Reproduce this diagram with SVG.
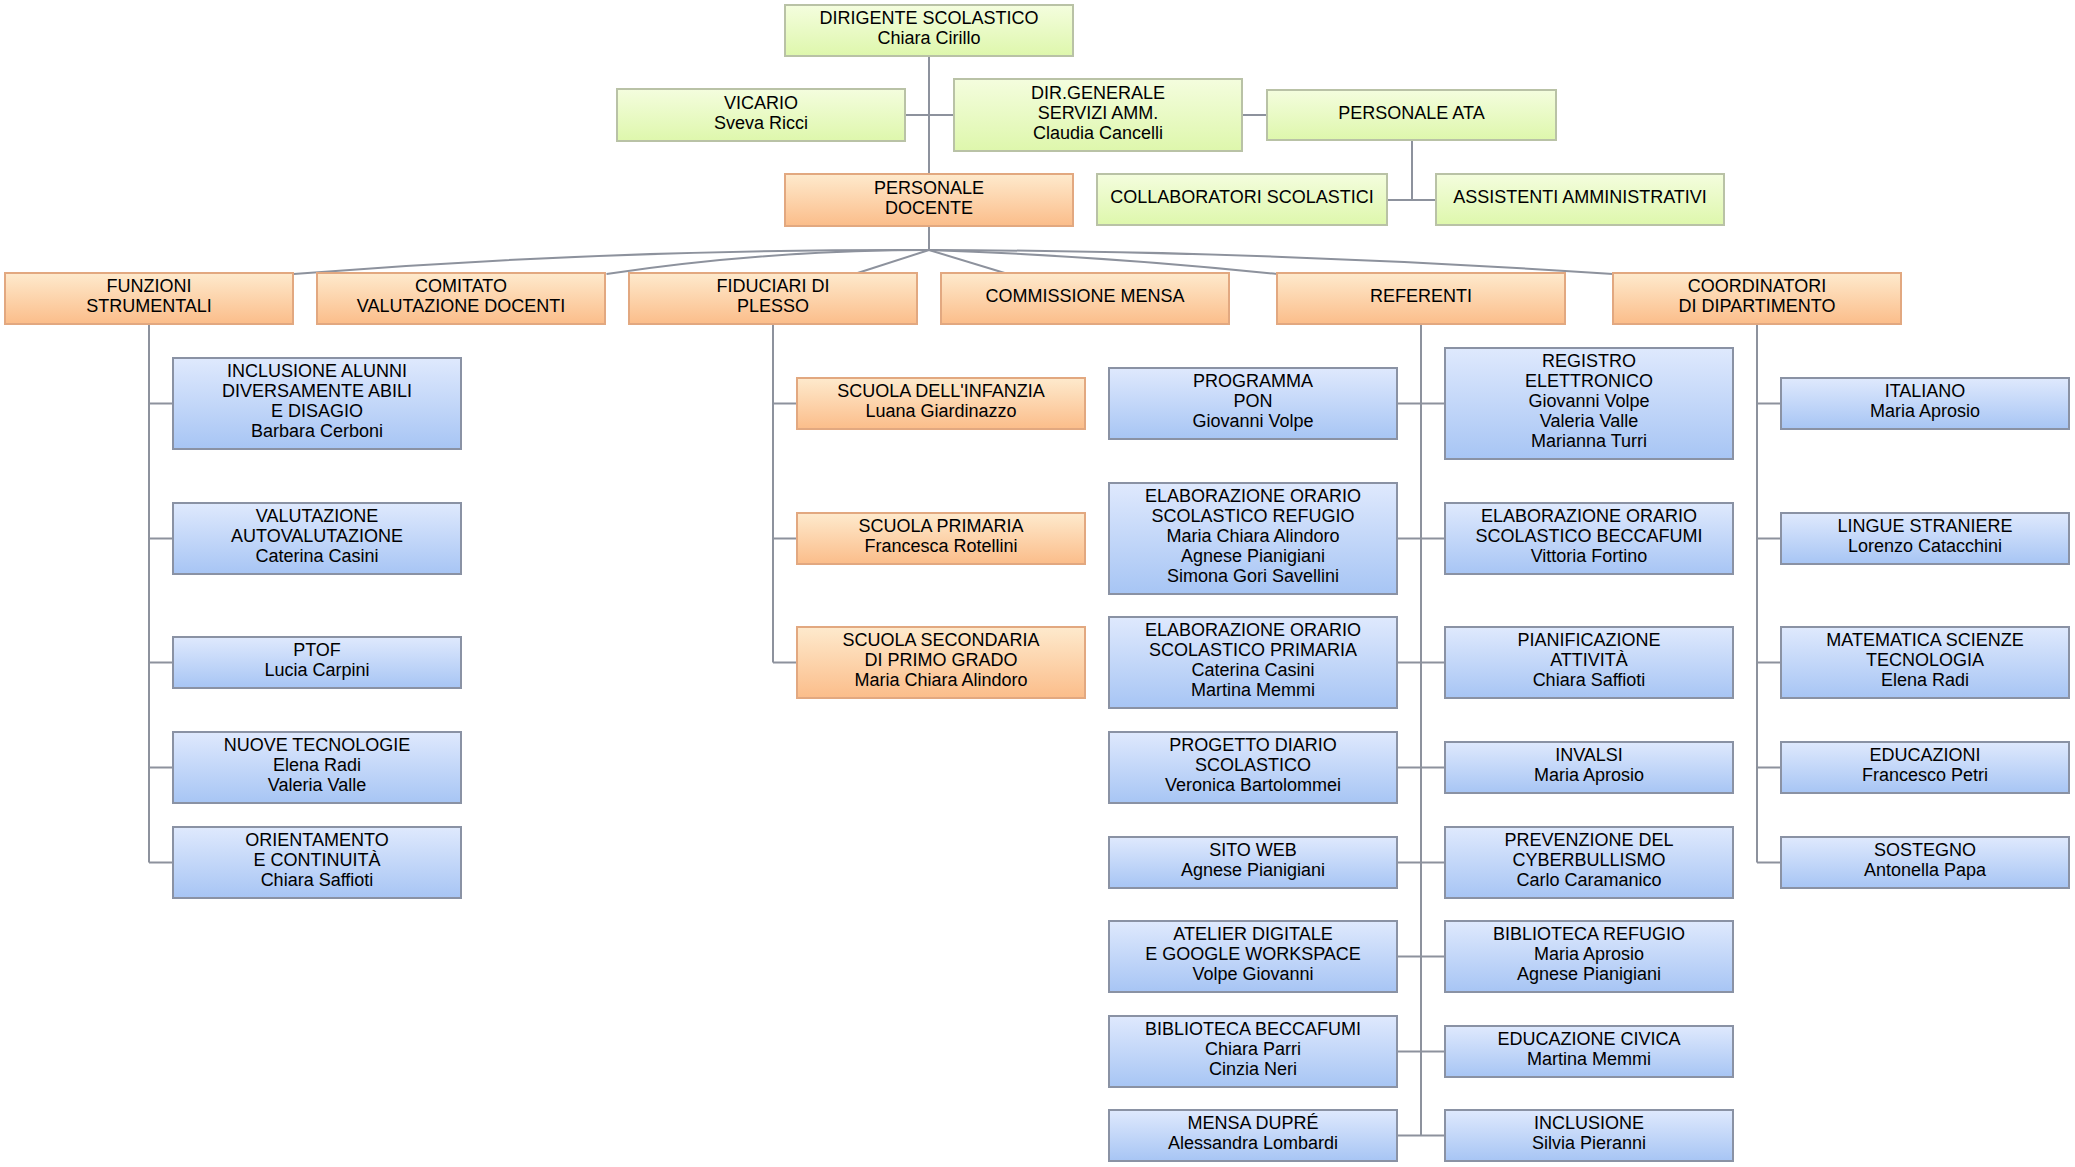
<svg xmlns="http://www.w3.org/2000/svg" width="2075" height="1167" viewBox="0 0 2075 1167">
<defs>
<linearGradient id="gG" x1="0" y1="0" x2="0" y2="1"><stop offset="0" stop-color="#f4fdde"/><stop offset="1" stop-color="#def7ac"/></linearGradient>
<linearGradient id="gO" x1="0" y1="0" x2="0" y2="1"><stop offset="0" stop-color="#feeacd"/><stop offset="1" stop-color="#fbbd8a"/></linearGradient>
<linearGradient id="gB" x1="0" y1="0" x2="0" y2="1"><stop offset="0" stop-color="#dfe9fd"/><stop offset="1" stop-color="#a7c5f4"/></linearGradient>
<style>
.g rect{fill:url(#gG);stroke:#b9c2a6;stroke-width:2}
.o rect{fill:url(#gO);stroke:#e2a880;stroke-width:2}
.b rect{fill:url(#gB);stroke:#8a92a4;stroke-width:2}
text{font-family:"Liberation Sans",Arial,sans-serif;font-size:18px;fill:#000;text-anchor:middle;transform:translate(0px,-1.3px)}
#connectors path{fill:none;stroke:#8d929d;stroke-width:2}
</style>
</defs>
<rect width="2075" height="1167" fill="#fff"/>
<g id="connectors">
<path d="M929 56V250M905 115H954M1242 115H1267M1412 140V200M1388 200H1436"/>
<path d="M929 226V250"/>
<path d="M929 250Q611 249 293.5 274"/>
<path d="M929 250Q768 250 606.5 274"/>
<path d="M929 250L854.5 274"/>
<path d="M929 250L1008 274"/>
<path d="M929 250Q1103 256 1277 274"/>
<path d="M929 250Q1270 251 1613 274"/>
<path d="M149 324V862.5M149 403.5H173M149 538.5H173M149 662.5H173M149 767.5H173M149 862.5H173"/>
<path d="M773 324V662.5M773 403.5H797M773 538.5H797M773 662.5H797"/>
<path d="M1421 324V1135.5M1397 403.5H1445M1397 538.5H1445M1397 662.5H1445M1397 767.5H1445M1397 862.5H1445M1397 956.5H1445M1397 1051.5H1445M1397 1135.5H1445"/>
<path d="M1757 324V862.5M1757 403.5H1781M1757 538.5H1781M1757 662.5H1781M1757 767.5H1781M1757 862.5H1781"/>
</g>

<g id="dirigente" class="g"><rect x="785" y="5" width="288" height="51"/><text><tspan x="929" y="25.5">DIRIGENTE SCOLASTICO</tspan><tspan x="929" y="45.5">Chiara Cirillo</tspan></text></g>
<g id="vicario" class="g"><rect x="617" y="89" width="288" height="52"/><text><tspan x="761" y="110">VICARIO</tspan><tspan x="761" y="130">Sveva Ricci</tspan></text></g>
<g id="dsga" class="g"><rect x="954" y="79" width="288" height="72"/><text><tspan x="1098" y="100">DIR.GENERALE</tspan><tspan x="1098" y="120">SERVIZI AMM.</tspan><tspan x="1098" y="140">Claudia Cancelli</tspan></text></g>
<g id="personale-ata" class="g"><rect x="1267" y="90" width="289" height="50"/><text x="1411.5" y="120">PERSONALE ATA</text></g>
<g id="collaboratori" class="g"><rect x="1097" y="174" width="290" height="51"/><text x="1242" y="204.5">COLLABORATORI SCOLASTICI</text></g>
<g id="assistenti" class="g"><rect x="1436" y="174" width="288" height="51"/><text x="1580" y="204.5">ASSISTENTI AMMINISTRATIVI</text></g>

<g id="personale-docente" class="o"><rect x="785" y="174" width="288" height="52"/><text><tspan x="929" y="195">PERSONALE</tspan><tspan x="929" y="215">DOCENTE</tspan></text></g>
<g id="funzioni" class="o"><rect x="5" y="273" width="288" height="51"/><text><tspan x="149" y="293.5">FUNZIONI</tspan><tspan x="149" y="313.5">STRUMENTALI</tspan></text></g>
<g id="comitato" class="o"><rect x="317" y="273" width="288" height="51"/><text><tspan x="461" y="293.5">COMITATO</tspan><tspan x="461" y="313.5">VALUTAZIONE DOCENTI</tspan></text></g>
<g id="fiduciari" class="o"><rect x="629" y="273" width="288" height="51"/><text><tspan x="773" y="293.5">FIDUCIARI DI</tspan><tspan x="773" y="313.5">PLESSO</tspan></text></g>
<g id="commissione" class="o"><rect x="941" y="273" width="288" height="51"/><text x="1085" y="303.5">COMMISSIONE MENSA</text></g>
<g id="referenti" class="o"><rect x="1277" y="273" width="288" height="51"/><text x="1421" y="303.5">REFERENTI</text></g>
<g id="coordinatori" class="o"><rect x="1613" y="273" width="288" height="51"/><text><tspan x="1757" y="293.5">COORDINATORI</tspan><tspan x="1757" y="313.5">DI DIPARTIMENTO</tspan></text></g>

<g id="infanzia" class="o"><rect x="797" y="378" width="288" height="51"/><text><tspan x="941" y="398.5">SCUOLA DELL'INFANZIA</tspan><tspan x="941" y="418.5">Luana Giardinazzo</tspan></text></g>
<g id="primaria" class="o"><rect x="797" y="513" width="288" height="51"/><text><tspan x="941" y="533.5">SCUOLA PRIMARIA</tspan><tspan x="941" y="553.5">Francesca Rotellini</tspan></text></g>
<g id="secondaria" class="o"><rect x="797" y="627" width="288" height="71"/><text><tspan x="941" y="647.5">SCUOLA SECONDARIA</tspan><tspan x="941" y="667.5">DI PRIMO GRADO</tspan><tspan x="941" y="687.5">Maria Chiara Alindoro</tspan></text></g>

<g id="inclusione-alunni" class="b"><rect x="173" y="358" width="288" height="91"/><text><tspan x="317" y="378.5">INCLUSIONE ALUNNI</tspan><tspan x="317" y="398.5">DIVERSAMENTE ABILI</tspan><tspan x="317" y="418.5">E DISAGIO</tspan><tspan x="317" y="438.5">Barbara Cerboni</tspan></text></g>
<g id="valutazione" class="b"><rect x="173" y="503" width="288" height="71"/><text><tspan x="317" y="523.5">VALUTAZIONE</tspan><tspan x="317" y="543.5">AUTOVALUTAZIONE</tspan><tspan x="317" y="563.5">Caterina Casini</tspan></text></g>
<g id="ptof" class="b"><rect x="173" y="637" width="288" height="51"/><text><tspan x="317" y="657.5">PTOF</tspan><tspan x="317" y="677.5">Lucia Carpini</tspan></text></g>
<g id="nuove-tecnologie" class="b"><rect x="173" y="732" width="288" height="71"/><text><tspan x="317" y="752.5">NUOVE TECNOLOGIE</tspan><tspan x="317" y="772.5">Elena Radi</tspan><tspan x="317" y="792.5">Valeria Valle</tspan></text></g>
<g id="orientamento" class="b"><rect x="173" y="827" width="288" height="71"/><text><tspan x="317" y="847.5">ORIENTAMENTO</tspan><tspan x="317" y="867.5">E CONTINUITÀ</tspan><tspan x="317" y="887.5">Chiara Saffioti</tspan></text></g>

<g id="pon" class="b"><rect x="1109" y="368" width="288" height="71"/><text><tspan x="1253" y="388.5">PROGRAMMA</tspan><tspan x="1253" y="408.5">PON</tspan><tspan x="1253" y="428.5">Giovanni Volpe</tspan></text></g>
<g id="orario-refugio" class="b"><rect x="1109" y="483" width="288" height="111"/><text><tspan x="1253" y="503.5">ELABORAZIONE ORARIO</tspan><tspan x="1253" y="523.5">SCOLASTICO REFUGIO</tspan><tspan x="1253" y="543.5">Maria Chiara Alindoro</tspan><tspan x="1253" y="563.5">Agnese Pianigiani</tspan><tspan x="1253" y="583.5">Simona Gori Savellini</tspan></text></g>
<g id="orario-primaria" class="b"><rect x="1109" y="617" width="288" height="91"/><text><tspan x="1253" y="637.5">ELABORAZIONE ORARIO</tspan><tspan x="1253" y="657.5">SCOLASTICO PRIMARIA</tspan><tspan x="1253" y="677.5">Caterina Casini</tspan><tspan x="1253" y="697.5">Martina Memmi</tspan></text></g>
<g id="diario" class="b"><rect x="1109" y="732" width="288" height="71"/><text><tspan x="1253" y="752.5">PROGETTO DIARIO</tspan><tspan x="1253" y="772.5">SCOLASTICO</tspan><tspan x="1253" y="792.5">Veronica Bartolommei</tspan></text></g>
<g id="sito-web" class="b"><rect x="1109" y="837" width="288" height="51"/><text><tspan x="1253" y="857.5">SITO WEB</tspan><tspan x="1253" y="877.5">Agnese Pianigiani</tspan></text></g>
<g id="atelier" class="b"><rect x="1109" y="921" width="288" height="71"/><text><tspan x="1253" y="941.5">ATELIER DIGITALE</tspan><tspan x="1253" y="961.5">E GOOGLE WORKSPACE</tspan><tspan x="1253" y="981.5">Volpe Giovanni</tspan></text></g>
<g id="biblioteca-beccafumi" class="b"><rect x="1109" y="1016" width="288" height="71"/><text><tspan x="1253" y="1036.5">BIBLIOTECA BECCAFUMI</tspan><tspan x="1253" y="1056.5">Chiara Parri</tspan><tspan x="1253" y="1076.5">Cinzia Neri</tspan></text></g>
<g id="mensa-dupre" class="b"><rect x="1109" y="1110" width="288" height="51"/><text><tspan x="1253" y="1130.5">MENSA DUPRÉ</tspan><tspan x="1253" y="1150.5">Alessandra Lombardi</tspan></text></g>

<g id="registro" class="b"><rect x="1445" y="348" width="288" height="111"/><text><tspan x="1589" y="368.5">REGISTRO</tspan><tspan x="1589" y="388.5">ELETTRONICO</tspan><tspan x="1589" y="408.5">Giovanni Volpe</tspan><tspan x="1589" y="428.5">Valeria Valle</tspan><tspan x="1589" y="448.5">Marianna Turri</tspan></text></g>
<g id="orario-beccafumi" class="b"><rect x="1445" y="503" width="288" height="71"/><text><tspan x="1589" y="523.5">ELABORAZIONE ORARIO</tspan><tspan x="1589" y="543.5">SCOLASTICO BECCAFUMI</tspan><tspan x="1589" y="563.5">Vittoria Fortino</tspan></text></g>
<g id="pianificazione" class="b"><rect x="1445" y="627" width="288" height="71"/><text><tspan x="1589" y="647.5">PIANIFICAZIONE</tspan><tspan x="1589" y="667.5">ATTIVITÀ</tspan><tspan x="1589" y="687.5">Chiara Saffioti</tspan></text></g>
<g id="invalsi" class="b"><rect x="1445" y="742" width="288" height="51"/><text><tspan x="1589" y="762.5">INVALSI</tspan><tspan x="1589" y="782.5">Maria Aprosio</tspan></text></g>
<g id="cyberbullismo" class="b"><rect x="1445" y="827" width="288" height="71"/><text><tspan x="1589" y="847.5">PREVENZIONE DEL</tspan><tspan x="1589" y="867.5">CYBERBULLISMO</tspan><tspan x="1589" y="887.5">Carlo Caramanico</tspan></text></g>
<g id="biblioteca-refugio" class="b"><rect x="1445" y="921" width="288" height="71"/><text><tspan x="1589" y="941.5">BIBLIOTECA REFUGIO</tspan><tspan x="1589" y="961.5">Maria Aprosio</tspan><tspan x="1589" y="981.5">Agnese Pianigiani</tspan></text></g>
<g id="educazione-civica" class="b"><rect x="1445" y="1026" width="288" height="51"/><text><tspan x="1589" y="1046.5">EDUCAZIONE CIVICA</tspan><tspan x="1589" y="1066.5">Martina Memmi</tspan></text></g>
<g id="inclusione" class="b"><rect x="1445" y="1110" width="288" height="51"/><text><tspan x="1589" y="1130.5">INCLUSIONE</tspan><tspan x="1589" y="1150.5">Silvia Pieranni</tspan></text></g>

<g id="italiano" class="b"><rect x="1781" y="378" width="288" height="51"/><text><tspan x="1925" y="398.5">ITALIANO</tspan><tspan x="1925" y="418.5">Maria Aprosio</tspan></text></g>
<g id="lingue" class="b"><rect x="1781" y="513" width="288" height="51"/><text><tspan x="1925" y="533.5">LINGUE STRANIERE</tspan><tspan x="1925" y="553.5">Lorenzo Catacchini</tspan></text></g>
<g id="matematica" class="b"><rect x="1781" y="627" width="288" height="71"/><text><tspan x="1925" y="647.5">MATEMATICA SCIENZE</tspan><tspan x="1925" y="667.5">TECNOLOGIA</tspan><tspan x="1925" y="687.5">Elena Radi</tspan></text></g>
<g id="educazioni" class="b"><rect x="1781" y="742" width="288" height="51"/><text><tspan x="1925" y="762.5">EDUCAZIONI</tspan><tspan x="1925" y="782.5">Francesco Petri</tspan></text></g>
<g id="sostegno" class="b"><rect x="1781" y="837" width="288" height="51"/><text><tspan x="1925" y="857.5">SOSTEGNO</tspan><tspan x="1925" y="877.5">Antonella Papa</tspan></text></g>
</svg>
